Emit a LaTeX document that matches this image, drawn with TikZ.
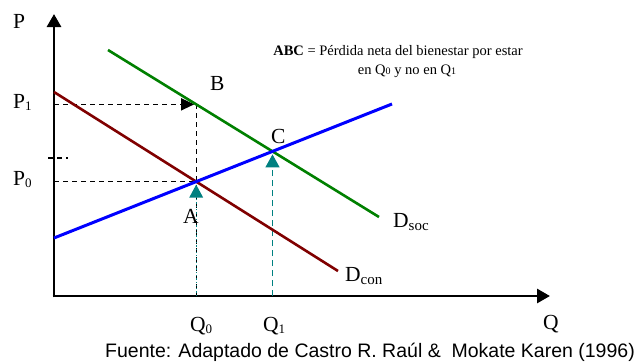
\documentclass[tikz,border=0pt]{standalone}
\usepackage{fontspec}
\setmainfont{Liberation Serif}
\newfontfamily\arialfont{Liberation Sans}
\usetikzlibrary{arrows.meta,intersections}
\definecolor{dgreen}{RGB}{0,128,0}
\definecolor{dred}{RGB}{128,0,0}
\definecolor{dblue}{RGB}{0,0,255}
\definecolor{dteal}{RGB}{0,128,128}
\newcommand{\subx}[1]{\raisebox{-0.3ex}{\fontsize{13}{13}\selectfont #1}}
\newcommand{\subd}[1]{\raisebox{-0.35ex}{\fontsize{15}{15}\selectfont #1}}
\tikzset{
  axis/.style={line width=2.8pt, -{Triangle[length=13pt,width=14pt]}},
  lbl/.style={anchor=base west, inner sep=0pt, font=\fontsize{21.5}{21.5}\selectfont},
  curve/.style={line width=2.6pt},
  guide/.style={line width=1.3pt, dash pattern=on 5pt off 4pt},
  tealtip/.style={-{Triangle[length=13pt,width=14pt]}, dteal},
}
\begin{document}
\begin{tikzpicture}[x=1pt,y=-1pt]
\useasboundingbox (0,0) rectangle (641,362);
% axes
\coordinate (O) at (54,296);
\coordinate (Ytop) at (54,14);
\coordinate (Xend) at (550,296);
\draw[axis] (54,297.4) -- (Ytop);
\draw[axis] (52.6,296) -- (Xend);
% curves
\coordinate (s1) at (54,238);
\coordinate (s2) at (392,104);
\coordinate (g1) at (108,50);
\coordinate (g2) at (379,217);
\coordinate (r1) at (54,92);
\coordinate (r2) at (338,271);
\path[name path=sup] (s1) -- (s2);
\path[name path=soc] (g1) -- (g2);
\path[name path=con] (r1) -- (r2);
\path[name intersections={of=sup and con, by=A}];
\path[name intersections={of=sup and soc, by=C}];
\path[name path=vert] (A |- 0,20) -- (A |- O);
\path[name intersections={of=vert and soc, by=B}];
\coordinate (Q0) at (A |- O);
\coordinate (Q1) at (C |- O);
\coordinate (P1) at (O |- B);
\coordinate (P0) at (O |- A);
\coordinate (t1) at (48,158);
\coordinate (t2) at (68,158);
% guides
\draw[guide, -{Triangle[length=13pt,width=12pt]}, shorten >=2pt] (P1) -- (B);
\draw[guide] (B) -- (Q0);
\draw[guide] (P0) -- (A);
\draw[guide] (t1) -- (t2);
\draw[dteal, line width=1.3pt, dotted] (Q0) -- ([yshift=-14pt]A);
\draw[tealtip, line width=1.3pt, dash pattern=on 6pt off 4pt, shorten >=3pt] (Q1) -- (C);
\draw[tealtip, line width=0pt, shorten >=3pt] ([yshift=-16pt]A) -- (A);
% curves
\draw[curve, dred] (r1) -- (r2);
\draw[curve, dgreen] (g1) -- (g2);
\draw[curve, dblue, line width=3pt] (s1) -- (s2);
% labels
\node[lbl] (lP) at (13,28) {P};
\node[lbl] (lP1) at (13,108) {P\subx{1}};
\node[lbl] (lP0) at (13,185) {P\subx{0}};
\node[lbl] (lB) at (210,90) {B};
\node[lbl] (lC) at (271,143) {C};
\node[lbl] (lA) at (183,223) {A};
\node[lbl] (lQ) at (543,329) {Q};
\node[lbl] (lQ0) at (190,331) {Q\subx{0}};
\node[lbl] (lQ1) at (263,331) {Q\subx{1}};
\node[lbl] (lDs) at (393,227) {D\subd{soc}};
\node[lbl] (lDc) at (345,281) {D\subd{con}};
\node[anchor=base, inner sep=0pt, font=\fontsize{14.5}{14.5}\selectfont] (abc1) at (398,55) {\textbf{ABC} = Pérdida neta del bienestar por estar};
\node[anchor=base, inner sep=0pt, font=\fontsize{14.5}{14.5}\selectfont] (abc2) at (407,74) {en Q{\fontsize{10}{10}\selectfont 0} y no en Q{\fontsize{10}{10}\selectfont 1}};
\node[anchor=base, inner sep=0pt, font=\arialfont\fontsize{19.5}{19.5}\selectfont] (src) at (370,357) {Fuente: Adaptado de Castro R. Raúl \&\ \ Mokate Karen (1996)};
\end{tikzpicture}
\end{document}
